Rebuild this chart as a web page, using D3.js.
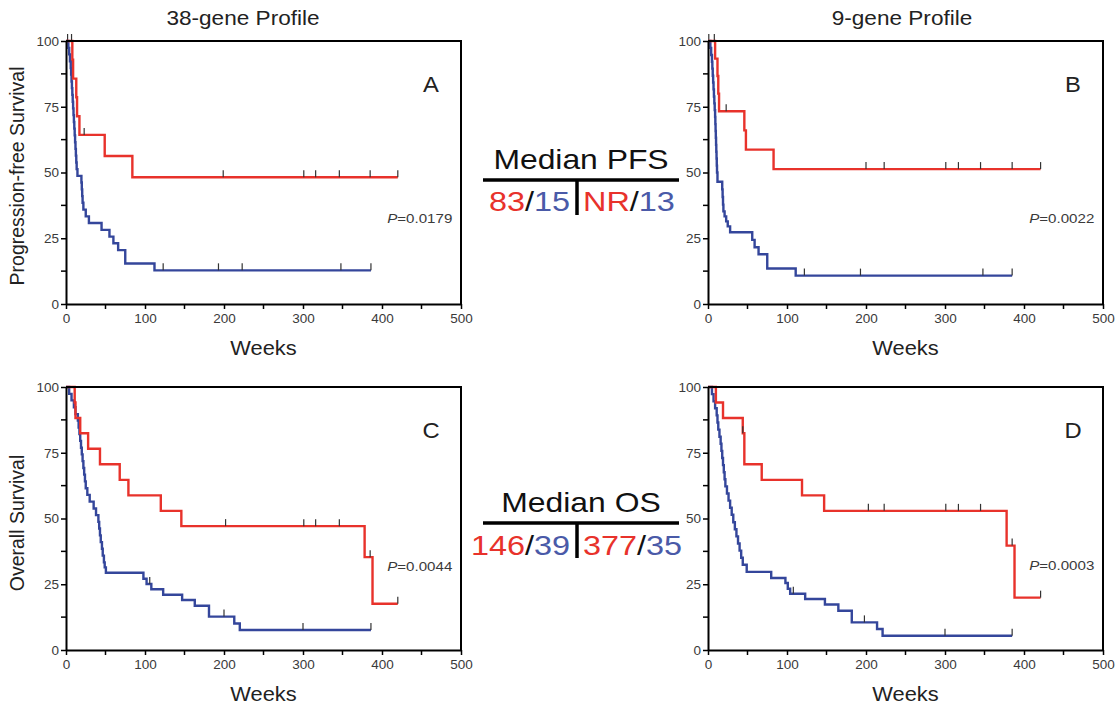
<!DOCTYPE html>
<html><head><meta charset="utf-8">
<script src="https://cdn.jsdelivr.net/npm/d3@7"></script>
<style>body{margin:0;background:#fff}svg{display:block;font-family:"Liberation Sans",Arial,sans-serif}</style>
</head><body><svg id="c" width="1119" height="706"></svg>
<script>
// ---------------- DATA ----------------
const xTicks = [0, 100, 200, 300, 400, 500];
const xMinor = [50, 150, 250, 350, 450];
const yTicks = [0, 25, 50, 75, 100];
const yMinor = [12.5, 37.5, 62.5, 87.5];
const columnTitles = ["38-gene Profile", "9-gene Profile"];
const rowTitles = ["Progression-free Survival", "Overall Survival"];
const xTitle = "Weeks";
const panelLetters = ["A", "B", "C", "D"];
const pValues = ["0.0179", "0.0022", "0.0044", "0.0003"];
const medianPFS = ["83", "15", "NR", "13"];
const medianOS = ["146", "39", "377", "35"];

// Kaplan-Meier steps: [week, survival % after the step]
const pfs38Red = [[0,100],[8,92.9],[9,85.7],[13,78.6],[14,71.4],[17,64.3],[49,56.3],[84,48.2]];
const pfs38RedCens = [7, 23, 199, 301, 316, 346, 385, 420];
const pfs38Blue = [[0,100],[3,97.4],[4,94.9],[5,92.3],[6,89.7],[6.5,87.2],[7,84.6],[7.5,82.1],[8,79.5],[8.5,76.9],[9,74.4],[9.5,71.8],[10,69.2],[10.5,66.7],[11,64.1],[11.5,61.5],[12,59],[12.5,56.4],[13,53.8],[13.5,51.3],[14.5,48.7],[19.5,46.2],[20,43.6],[20.5,41],[21,38.5],[22,35.9],[25,33.3],[29,30.8],[45,28.2],[55,25.6],[60,23.1],[66,20.5],[75,15.4],[112,12.8]];
const pfs38BlueCens = [2, 123, 193, 223, 348, 386];

const pfs9Red = [[0,100],[9,93.3],[12,86.7],[13,80],[14,73.3],[46,66],[48,58.7],[83,51.3]];
const pfs9RedCens = [8, 23, 200, 223, 301, 317, 345, 385, 421];
const pfs9Blue = [[0,100],[3,97.4],[4,94.7],[5,92.1],[5.5,89.5],[6,86.8],[6.5,84.2],[7,81.6],[7.5,78.9],[8,76.3],[8.5,73.7],[9,71.1],[9.3,68.4],[9.6,65.8],[9.9,63.2],[10.2,60.5],[10.5,57.9],[10.8,55.3],[11.1,52.6],[11.4,50],[12,46.5],[18,43.6],[18.5,40.7],[19,37.8],[19.5,35.2],[21,33.3],[23,31.4],[25,29.5],[28,27.3],[56,24.4],[59,21.6],[64,18.9],[75,13.5],[111,10.8]];
const pfs9BlueCens = [1, 122, 193, 348, 385];

const os38Red = [[0,100],[11,94.1],[12,88.2],[18,82.4],[28,76.5],[43,70.6],[68,64.7],[79,58.8],[120,52.9],[146,47.1],[378,35.3],[388,17.6]];
const os38RedCens = [202, 301, 316, 346, 385, 420];
const os38Blue = [[0,100],[4,97.4],[7,94.9],[10,92.3],[12,89.7],[15,87.2],[16,84.6],[17,82.1],[18,79.5],[19,76.9],[20,74.4],[21,71.8],[22,69.2],[23,66.7],[24,64.1],[25,61.5],[27,59],[30,56.4],[35,53.8],[38,51.3],[41,48.7],[42,46.2],[43,43.6],[44,41],[45.5,38.5],[46.5,35.9],[48,33.3],[49,31.4],[50.5,29.4],[98,27.1],[102,25.1],[108,23.1],[123,21],[147,19],[163,16.8],[181,12.7],[213,10.1],[220,7.6]];
const os38BlueCens = [106, 200, 300, 386];

const os9Red = [[0,100],[10,94.1],[19,88.2],[44,82.4],[46,70.6],[68,64.7],[119,58.8],[147,52.9],[378,39.7],[388,19.9]];
const os9RedCens = [44, 203, 223, 301, 317, 345, 385, 421];
const os9Blue = [[0,100],[5,97.3],[7,94.6],[9,91.9],[11,89.2],[12,86.5],[13,83.8],[14.5,81.1],[16,78.4],[17,75.7],[18,73],[19,70.3],[20,67.6],[21,64.9],[22,62.2],[24,59.5],[26,56.8],[28,54.1],[30,51.4],[32,48.6],[34,45.9],[36,43.2],[38,40.5],[40,37.8],[42,35.1],[44,32.4],[49,29.7],[80,27.4],[98,25.5],[101,23.3],[104,21.4],[123,19.4],[148,17.3],[165,14.9],[182,10.5],[214,8],[221,5.4]];
const os9BlueCens = [108, 198, 300, 385];

// ---------------- LAYOUT ----------------
const RED = "#e8322b", BLUE = "#34469b", TXT = "#222", TICKTXT = "#3a3a3a";
const svg = d3.select("#c");

const panels = [
  {x0:66,  x1:461,  y0:41,  y1:304, red:pfs38Red, redC:pfs38RedCens, blue:pfs38Blue, blueC:pfs38BlueCens, letter:panelLetters[0], p:pValues[0], py:223},
  {x0:708, x1:1103, y0:41,  y1:304, red:pfs9Red,  redC:pfs9RedCens,  blue:pfs9Blue,  blueC:pfs9BlueCens,  letter:panelLetters[1], p:pValues[1], py:223},
  {x0:66,  x1:461,  y0:387, y1:650, red:os38Red,  redC:os38RedCens,  blue:os38Blue,  blueC:os38BlueCens,  letter:panelLetters[2], p:pValues[2], py:571},
  {x0:708, x1:1103, y0:387, y1:650, red:os9Red,   redC:os9RedCens,   blue:os9Blue,   blueC:os9BlueCens,   letter:panelLetters[3], p:pValues[3], py:570}
];

function stretchText(parent, x, y, size, anchor, sx) {
  return parent.append("text")
    .attr("transform", `translate(${x},${y}) scale(${sx},1)`)
    .attr("text-anchor", anchor)
    .attr("font-size", size)
    .attr("fill", TXT);
}

function survAt(steps, t) {
  let s = 100;
  for (const [tt, v] of steps) if (tt <= t) s = v;
  return s;
}

panels.forEach(p => {
  const x = d3.scaleLinear().domain([0, 500]).range([p.x0, p.x1]);
  const y = d3.scaleLinear().domain([0, 100]).range([p.y1, p.y0]);
  const g = svg.append("g");

  // curves
  const line = d3.line().x(d => x(d[0])).y(d => y(d[1])).curve(d3.curveStepAfter);
  [[p.blue, p.blueC, BLUE], [p.red, p.redC, RED]].forEach(([steps, cens, col]) => {
    const end = Math.max(d3.max(cens), d3.max(steps, d => d[0]));
    const pts = steps.concat([[end, steps[steps.length - 1][1]]]);
    g.append("path").attr("d", line(pts)).attr("fill", "none")
      .attr("stroke", col).attr("stroke-width", 2.4).attr("stroke-linejoin", "miter");
    g.selectAll(null).data(cens).join("line")
      .attr("x1", d => x(d)).attr("x2", d => x(d))
      .attr("y1", d => y(survAt(steps, d)))
      .attr("y2", d => y(survAt(steps, d)) - 7)
      .attr("stroke", "#333").attr("stroke-width", 1.2);
  });

  // axes
  const ay = g.append("g").attr("transform", `translate(${p.x0},0)`)
    .call(d3.axisLeft(y).tickValues(yTicks).tickSize(5).tickSizeOuter(0).tickPadding(2));
  const ax = g.append("g").attr("transform", `translate(0,${p.y1})`)
    .call(d3.axisBottom(x).tickValues(xTicks).tickSize(5).tickSizeOuter(0).tickPadding(4));
  [ay, ax].forEach(a => {
    a.select(".domain").attr("stroke", "#000").attr("stroke-width", 2);
    a.selectAll(".tick line").attr("stroke", "#000").attr("stroke-width", 1.5);
    a.selectAll(".tick text").attr("font-size", 13.5).attr("fill", TICKTXT)
      .attr("font-family", "Liberation Sans, Arial, sans-serif");
  });
  g.selectAll(null).data(yMinor).join("line")
    .attr("x1", p.x0 - 5).attr("x2", p.x0).attr("y1", d => y(d)).attr("y2", d => y(d))
    .attr("stroke", "#000").attr("stroke-width", 1.5);
  g.selectAll(null).data(xMinor).join("line")
    .attr("x1", d => x(d)).attr("x2", d => x(d)).attr("y1", p.y1).attr("y2", p.y1 + 5)
    .attr("stroke", "#000").attr("stroke-width", 1.5);
  // frame top and right
  g.append("path").attr("d", `M${p.x0},${y(100)}H${x(500)}V${p.y1}`)
    .attr("fill", "none").attr("stroke", "#000").attr("stroke-width", 2);

  // x title
  stretchText(g, (p.x0 + p.x1) / 2, p.y1 + 51, 19.5, "middle", 1.12).text(xTitle);
  // letter
  stretchText(g, x(462), y(100) + 51, 22, "middle", 1.08).text(p.letter);
  // p value
  const pt = stretchText(g, x(489), p.py, 13.5, "end", 1.12).attr("fill", TICKTXT);
  pt.append("tspan").attr("font-style", "italic").text("P");
  pt.append("tspan").text("=" + p.p);
});

// column titles
stretchText(svg, 243, 25, 20, "middle", 1.13).text(columnTitles[0]);
stretchText(svg, 902, 25, 20, "middle", 1.13).text(columnTitles[1]);
// row titles
svg.append("text").attr("transform", "translate(24,176) rotate(-90)").attr("text-anchor", "middle")
  .attr("font-size", 19.5).attr("fill", TXT).text(rowTitles[0]);
svg.append("text").attr("transform", "translate(24,523) rotate(-90)").attr("text-anchor", "middle")
  .attr("font-size", 19.5).attr("fill", TXT).text(rowTitles[1]);

// median boxes
function medianBlock(title, vals, titleY, lineY, numY) {
  stretchText(svg, 581, titleY, 27, "middle", 1.18).attr("fill", "#111").text(title);
  svg.append("line").attr("x1", 483).attr("x2", 679).attr("y1", lineY).attr("y2", lineY)
    .attr("stroke", "#000").attr("stroke-width", 3.5);
  svg.append("line").attr("x1", 577).attr("x2", 577).attr("y1", lineY).attr("y2", lineY + 35)
    .attr("stroke", "#000").attr("stroke-width", 3.5);
  const l = stretchText(svg, 570, numY, 27, "end", 1.2);
  l.append("tspan").attr("fill", RED).text(vals[0]);
  l.append("tspan").attr("fill", "#111").text("/");
  l.append("tspan").attr("fill", "#4a5aa8").text(vals[1]);
  const r = stretchText(svg, 583, numY, 27, "start", 1.2);
  r.append("tspan").attr("fill", RED).text(vals[2]);
  r.append("tspan").attr("fill", "#111").text("/");
  r.append("tspan").attr("fill", "#4a5aa8").text(vals[3]);
}
medianBlock("Median PFS", medianPFS, 169, 180, 211);
medianBlock("Median OS", medianOS, 512, 523, 555);
</script></body></html>
